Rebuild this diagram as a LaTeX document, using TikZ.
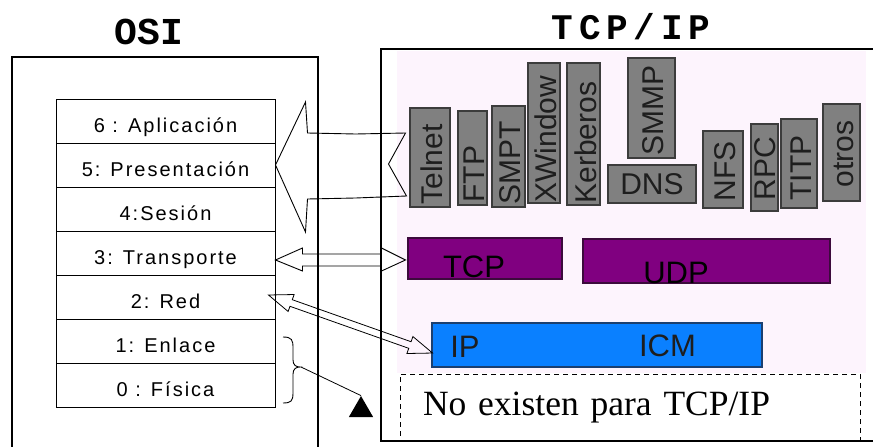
\documentclass[tikz,border=0pt]{standalone}
\usepackage{fontspec}
\setmainfont{Liberation Serif}
\setsansfont{Liberation Sans}
\setmonofont{Liberation Mono}
\usetikzlibrary{calc,shapes.geometric}
\definecolor{pinkbg}{HTML}{FDF4FD}
\definecolor{appgray}{HTML}{808080}
\definecolor{appborder}{HTML}{3C3C3C}
\definecolor{apptext}{HTML}{1E1E1E}
\definecolor{tcppurple}{HTML}{800080}
\definecolor{tcpborder}{HTML}{3C0A3C}
\definecolor{ipblue}{HTML}{0A80FF}
\definecolor{ipborder}{HTML}{1B3F70}
\begin{document}
\begin{tikzpicture}[x=1pt,y=-1pt,
  frame/.style={draw, line width=1.2pt, inner sep=0pt},
  title/.style={font=\ttfamily\bfseries\fontsize{38}{40}\selectfont, inner sep=0pt},
  layer/.style={draw, line width=1pt, minimum width=219pt, minimum height=44pt, inner sep=0pt,
    text height=22pt, text depth=0pt,
    font=\sffamily\fontsize{20}{24}\selectfont\addfontfeatures{LetterSpace=10}},
  app/.style={draw=appborder, fill=appgray, line width=1.2pt, inner sep=0pt},
  applbl/.style={anchor=south, inner sep=0pt, text=apptext, font=\sffamily\fontsize{30}{34}\selectfont},
  proto/.style={line width=1.2pt, inner sep=0pt},
  protolbl/.style={anchor=base, inner sep=0pt, font=\sffamily\fontsize{31}{34}\selectfont},
  hollow/.style={draw, line width=0.9pt, line join=miter},
]
\useasboundingbox (0,0) rectangle (873,447);

% frames and titles
\node[frame, minimum width=306pt, minimum height=393pt] (osiframe) at (165,253.5) {};
\node[title] (ositit) at (149,32) {OSI};
\fill[pinkbg] (397,51) rectangle (866,373);
\node[frame, minimum width=495pt, minimum height=392pt] (tcpframe) at (628.5,245) {};
\node[title, font=\ttfamily\bfseries\fontsize{36}{40}\selectfont\addfontfeatures{LetterSpace=16}] (tcptit) at (631,27) {TCP/IP};

% OSI layers
\node[layer] (l6) at (165.5,121) {6 : Aplicación};
\node[layer] (l5) at (165.5,165) {5: Presentación};
\node[layer] (l4) at (165.5,209) {4:Sesión};
\node[layer] (l3) at (165.5,253) {3: Transporte};
\node[layer] (l2) at (165.5,297) {2: Red};
\node[layer] (l1) at (165.5,341) {1: Enlace};
\node[layer] (l0) at (165.5,385) {0 : Física};

% application protocols
\node[app, minimum width=40pt, minimum height=99pt] (telnet) at (430,157.5) {};
\node[applbl] at ([xshift=2pt,yshift=3pt]telnet.south) {\rotatebox{90}{Telnet}};
\node[app, minimum width=29pt, minimum height=94pt] (ftp) at (472.5,158) {};
\node[applbl] at ([xshift=2pt,yshift=3pt]ftp.south) {\rotatebox{90}{FTP}};
\node[app, minimum width=33pt, minimum height=101pt] (smpt) at (508.5,156.5) {};
\node[applbl] at ([xshift=2pt,yshift=3pt]smpt.south) {\rotatebox{90}{SMPT}};
\node[app, minimum width=32pt, minimum height=140pt] (xwin) at (544,133) {};
\node[applbl] at ([xshift=2pt,yshift=1pt]xwin.south) {\rotatebox{90}{XWindow}};
\node[app, minimum width=33pt, minimum height=142pt] (kerb) at (583.5,134) {};
\node[applbl] at ([xshift=2pt,yshift=2pt]kerb.south) {\rotatebox{90}{Kerberos}};
\node[app, minimum width=47pt, minimum height=100pt] (smmp) at (651.5,108) {};
\node[applbl] at ([xshift=2pt,yshift=3pt]smmp.south) {\rotatebox{90}{SMMP}};
\node[app, minimum width=88pt, minimum height=38pt, text=apptext, font=\sffamily\fontsize{30}{34}\selectfont] (dns) at (652,184) {DNS};
\node[app, minimum width=40pt, minimum height=77pt] (nfs) at (723,169.5) {};
\node[applbl] at ([xshift=2pt,yshift=7pt]nfs.south) {\rotatebox{90}{NFS}};
\node[app, minimum width=27pt, minimum height=87pt] (rpc) at (764.5,167.5) {};
\node[applbl] at ([xshift=1pt,yshift=11pt]rpc.south) {\rotatebox{90}{RPC}};
\node[app, minimum width=36pt, minimum height=89pt] (titp) at (799,163.5) {};
\node[applbl] at ([xshift=2pt,yshift=8pt]titp.south) {\rotatebox{90}{TITP}};
\node[app, minimum width=37pt, minimum height=97pt] (otros) at (841.5,152.5) {};
\node[applbl] at ([xshift=2pt,yshift=14pt]otros.south) {\rotatebox{90}{otros}};

% transport and internet
\node[proto, draw=tcpborder, fill=tcppurple, minimum width=154pt, minimum height=41pt] (tcp) at (485,258.5) {};
\node[protolbl] at (474,277) {TCP};
\node[proto, draw=tcpborder, fill=tcppurple, minimum width=247pt, minimum height=44pt] (udp) at (706.5,261) {};
\node[protolbl] at (676,283) {UDP};
\node[proto, draw=ipborder, fill=ipblue, minimum width=330pt, minimum height=44pt] (ip) at (597,345) {};
\node[protolbl, text=apptext] at (465,357) {IP};
\node[protolbl, text=apptext] at (667.5,356) {ICM};

% not existing layers
\node[draw, dashed, dash pattern=on 5pt off 4pt, line width=1pt, minimum width=460pt, minimum height=67pt,
  text width=414pt, inner xsep=23pt, align=left, font=\fontsize{35.5}{38}\selectfont] (noex) at (630,407.5) {No existen para TCP/IP};

% big hollow arrow: applications -> layers 6-4
\begin{scope}[shift={(l5.east)}]
\draw[hollow] (0,0) -- (30,-63) -- (32,-32) -- (80,-31) -- (130,-32) -- (113,-1) -- (131,31)
  -- (80,33) -- (32,34) -- (30,67) -- cycle;
\end{scope}

% double hollow arrow: transporte <-> TCP
\begin{scope}[shift={($(l3.east)+(0pt,-7pt)$)}]
\draw[hollow] (0,0) -- (27,-12) -- (27,-6) -- (106,-6) -- (106,-12) -- (130,0) -- (106,11)
  -- (106,6) -- (27,6) -- (27,11) -- cycle;
\end{scope}

% thin double arrow: red <-> IP
\coordinate (redend) at ($(l2.east)+(-7pt,2pt)$);
\coordinate (ipend) at ($(ip.west)+(0pt,-8pt)$);
\begin{scope}[shift={(redend)}, rotate=-19.48]
\draw[hollow, line width=0.8pt] (0,0) -- (24,-9) -- (24,-3.5) -- (150,-3.5) -- (150,-9) -- (174,0)
  -- (150,9) -- (150,3.5) -- (24,3.5) -- (24,9) -- cycle;
\end{scope}

% brace and pointer
\draw[line width=0.9pt] (283,337) .. controls (292,337) and (293,340) .. (293,348) -- (293,360)
  .. controls (293,365) and (296,367) .. (300,367)
  .. controls (296,367) and (293,369) .. (293,374) -- (293,393)
  .. controls (293,401) and (291,403) .. (283,403);
\coordinate (bracetip) at (301,367);
\node[regular polygon, regular polygon sides=3, fill=black, inner sep=0pt, minimum size=28pt] (tri) at (361,410) {};
\draw[line width=0.8pt] (bracetip) -- (tri.corner 1);
\end{tikzpicture}
\end{document}
